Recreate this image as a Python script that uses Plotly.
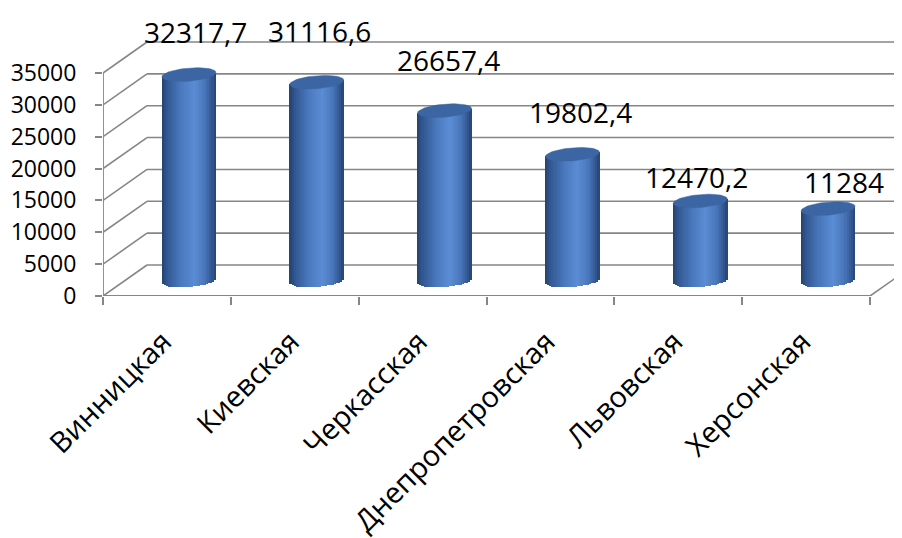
import numpy as np
import plotly.graph_objects as go

# ---------------- data ----------------
regions = ["Винницкая", "Киевская", "Черкасская", "Днепропетровская", "Львовская", "Херсонская"]
values = [32317.7, 31116.6, 26657.4, 19802.4, 12470.2, 11284]
y_ticks = [0, 5000, 10000, 15000, 20000, 25000, 30000, 35000]
y_tick_text = [str(v) for v in y_ticks]

# ---------------- geometry / style ----------------
W, H = 902, 538
PAGE_PAD = 8                        # default body margin of the html page
M_L, M_R, M_T, M_B = 103 - PAGE_PAD, 0, 0, H - (296 - PAGE_PAD)
PLOT_W = W - M_L - M_R
PLOT_H = H - M_T - M_B
CAT_PX = 127.84                     # pixels per category
PX_PER_Y = 223 / 35000              # pixels per value unit
DX = 44 / CAT_PX                    # depth offset (x units)
DY = 31 / PX_PER_Y                  # depth offset (y units)
XMIN = -0.5
XMAX = XMIN + PLOT_W / CAT_PX
YTOP = PLOT_H / PX_PER_Y

GRID = "#868686"
FONT = "Open Sans"
CYL_A = 27.0      # half width px
CYL_B = 6.5       # half height of ellipse px
TILT = 0.08       # ellipse tilt (px per px)
N_STRIPS = 26
TOP_COLOR = "#3b66a3"

# label offsets in pixels (dx, dy above top)
label_dx = [6.5, 3, 4, 8, -4, 16]
label_dy = [43, 51, 51, 42, 24, 27]

stops = [(0.0, (36, 64, 110)), (0.1, (50, 88, 146)), (0.35, (74, 120, 188)),
         (0.6, (90, 140, 212)), (0.8, (73, 118, 186)), (0.93, (52, 88, 146)),
         (1.0, (38, 66, 110))]


def shade(u):
    for (u0, c0), (u1, c1) in zip(stops[:-1], stops[1:]):
        if u0 <= u <= u1:
            t = (u - u0) / (u1 - u0)
            c = [round(a + (b - a) * t) for a, b in zip(c0, c1)]
            return f"rgb({c[0]},{c[1]},{c[2]})"
    return f"rgb{stops[-1][1]}"


fig = go.Figure()

centers = [i + DX / 2 for i in range(len(values))]
base_c = DY / 2
strip_px = 2 * CYL_A / N_STRIPS

# cylinder bodies as narrow bar strips
for j in range(N_STRIPS):
    u = -CYL_A + (j + 0.5) * strip_px
    low_px = -CYL_B * np.sqrt(max(0.0, 1 - (u / CYL_A) ** 2)) + TILT * u
    base = base_c + low_px / PX_PER_Y
    tops = [base_c + v + TILT * u / PX_PER_Y for v in values]
    fig.add_trace(go.Bar(
        x=[c + u / CAT_PX for c in centers],
        y=[t - base for t in tops],
        base=[base] * len(values),
        width=strip_px * 1.3 / CAT_PX,
        marker=dict(color=shade((j + 0.5) / N_STRIPS), line=dict(width=0)),
        showlegend=False, hoverinfo="skip"))

# top ellipses
tt = np.linspace(0, 2 * np.pi, 60)
ex, ey = [], []
for c, v in zip(centers, values):
    ox = CYL_A * np.cos(tt)
    oy = CYL_B * np.sin(tt) + TILT * ox
    ex += list(c + ox / CAT_PX) + [None]
    ey += list(base_c + v + oy / PX_PER_Y) + [None]
fig.add_trace(go.Scatter(x=ex, y=ey, mode="lines", fill="toself",
                         fillcolor=TOP_COLOR, line=dict(width=0.5, color=TOP_COLOR),
                         showlegend=False, hoverinfo="skip"))

# front axis lines
fig.add_trace(go.Scatter(x=[XMIN, XMIN, None, XMIN, len(values) - 0.5],
                         y=[0, y_ticks[-1], None, 0, 0], mode="lines",
                         line=dict(color=GRID, width=1.8), cliponaxis=False,
                         showlegend=False, hoverinfo="skip"))
# dummy trace for secondary x axis (boundary ticks)
fig.add_trace(go.Scatter(x=[XMIN], y=[0], xaxis="x2", mode="markers",
                         marker=dict(opacity=0), showlegend=False, hoverinfo="skip"))

# 3D grid (walls) as shapes below traces
shapes = []
for v in y_ticks:
    shapes.append(dict(type="line", xref="x", yref="y", x0=XMIN, y0=v, x1=XMIN + DX, y1=v + DY,
                       line=dict(color=GRID, width=1.6), layer="below"))
    shapes.append(dict(type="line", xref="x", yref="y", x0=XMIN + DX, y0=v + DY, x1=XMAX + 1, y1=v + DY,
                       line=dict(color=GRID, width=1.6), layer="below"))
shapes.append(dict(type="line", xref="x", yref="y", x0=len(values) - 0.5, y0=0,
                   x1=len(values) - 0.5 + DX, y1=DY, line=dict(color=GRID, width=1.6), layer="below"))

# value labels
annotations = []
for c, v, dxp, dyp in zip(centers, values, label_dx, label_dy):
    txt = (f"{v:.1f}".rstrip("0").rstrip(".")).replace(".", ",")
    annotations.append(dict(x=c + dxp / CAT_PX, y=base_c + v + dyp / PX_PER_Y, text=txt,
                            showarrow=False, xanchor="center", yanchor="middle",
                            font=dict(family=FONT, size=28, color="#000000")))

fig.update_layout(
    width=W, height=H, margin=dict(l=M_L, r=M_R, t=M_T, b=M_B, pad=0, autoexpand=False),
    paper_bgcolor="white", plot_bgcolor="white",
    barmode="overlay", bargap=0, showlegend=False,
    shapes=shapes, annotations=annotations,
    xaxis=dict(range=[XMIN, XMAX], tickvals=[i - 0.03 for i in range(len(regions))],
               ticktext=regions, tickangle=-45, ticks="", showgrid=False,
               zeroline=False, showline=False, ticklabelstandoff=22, automargin=False,
               tickfont=dict(family=FONT, size=29, color="#000000")),
    xaxis2=dict(range=[XMIN, XMAX], overlaying="x", anchor="y", side="bottom",
                tickvals=[i - 0.5 for i in range(len(regions) + 1)], ticks="outside",
                ticklen=8, tickwidth=1.8, tickcolor=GRID, showticklabels=False,
                showgrid=False, zeroline=False, showline=False, automargin=False),
    yaxis=dict(range=[0, YTOP], tickvals=y_ticks, ticktext=y_tick_text, ticks="outside",
               ticklen=7, tickwidth=1.8, tickcolor=GRID, showgrid=False, zeroline=False,
               showline=False, ticklabelstandoff=14, automargin=False,
               tickfont=dict(family=FONT, size=23, color="#000000")),
)

fig.write_html("out.html")
